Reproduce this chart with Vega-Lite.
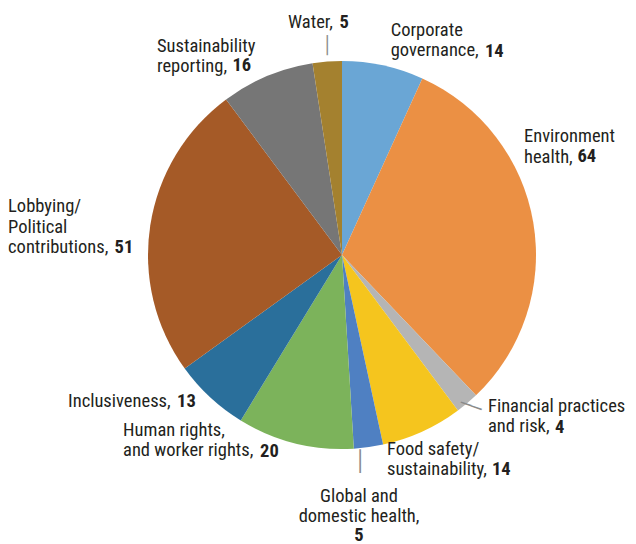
{
  "$schema": "https://vega.github.io/schema/vega-lite/v6.json",
  "width": 560,
  "height": 510,
  "autosize": "none",
  "padding": {"left": 62, "top": 0, "right": 14, "bottom": 34},
  "background": "white",
  "config": {"view": {"stroke": null}, "text": {"font": "Liberation Sans Narrow, Roboto Condensed, DejaVu Sans Condensed, sans-serif", "fontSize": 18.5, "color": "#231f20", "lineBreak": "\n", "lineHeight": 20.5, "baseline": "alphabetic", "align": "left"}},
  "data": {"values": [
    {"cat": "Corporate governance", "n": 14, "lab": "Corporate\ngovernance,", "num": "14"},
    {"cat": "Environment health", "n": 64, "lab": "Environment\nhealth,", "num": "64"},
    {"cat": "Financial practices and risk", "n": 4, "lab": "Financial practices\nand risk,", "num": "4"},
    {"cat": "Food safety/sustainability", "n": 14, "lab": "Food safety/\nsustainability,", "num": "14"},
    {"cat": "Global and domestic health", "n": 5, "lab": "Global and\ndomestic health,", "num": "5"},
    {"cat": "Human rights, and worker rights", "n": 20, "lab": "Human rights,\nand worker rights,", "num": "20"},
    {"cat": "Inclusiveness", "n": 13, "lab": "Inclusiveness,", "num": "13"},
    {"cat": "Lobbying/Political contributions", "n": 51, "lab": "Lobbying/\nPolitical\ncontributions,", "num": "51"},
    {"cat": "Sustainability reporting", "n": 16, "lab": "Sustainability\nreporting,", "num": "16"},
    {"cat": "Water", "n": 5, "lab": "Water,", "num": "5"}
  ]},
  "encoding": {
    "theta": {"field": "n", "type": "quantitative", "stack": true},
    "order": {"field": "cat", "type": "nominal"},
    "detail": {"field": "cat", "type": "nominal"}
  },
  "layer": [
    {"mark": {"type": "arc", "outerRadius": 194},
     "encoding": {"color": {"field": "cat", "type": "nominal", "legend": null,
       "scale": {"domain": ["Corporate governance", "Environment health", "Financial practices and risk", "Food safety/sustainability", "Global and domestic health", "Human rights, and worker rights", "Inclusiveness", "Lobbying/Political contributions", "Sustainability reporting", "Water"],
                 "range": ["#6aa6d5", "#eb9044", "#b5b5b5", "#f5c51e", "#4f80c2", "#7cb35b", "#2a6f9b", "#a55a27", "#767676", "#a4812f"]}}}},

    {"mark": {"type": "text", "radius": 194, "dx": 7.6, "dy": -29.7}, "encoding": {"text": {"condition": {"test": "datum.cat === 'Corporate governance'", "field": "lab"}, "value": ""}}},
    {"mark": {"type": "text", "radius": 194, "dx": 101.9, "dy": -8.7, "fontWeight": "bold"}, "encoding": {"text": {"condition": {"test": "datum.cat === 'Corporate governance'", "field": "num"}, "value": ""}}},

    {"mark": {"type": "text", "radius": 194, "dx": -9.3, "dy": -80.6}, "encoding": {"text": {"condition": {"test": "datum.cat === 'Environment health'", "field": "lab"}, "value": ""}}},
    {"mark": {"type": "text", "radius": 194, "dx": 44.2, "dy": -60.6, "fontWeight": "bold"}, "encoding": {"text": {"condition": {"test": "datum.cat === 'Environment health'", "field": "num"}, "value": ""}}},

    {"mark": {"type": "text", "radius": 194, "dx": 20.8, "dy": 8.8}, "encoding": {"text": {"condition": {"test": "datum.cat === 'Financial practices and risk'", "field": "lab"}, "value": ""}}},
    {"mark": {"type": "text", "radius": 194, "dx": 87.8, "dy": 29.8, "fontWeight": "bold"}, "encoding": {"text": {"condition": {"test": "datum.cat === 'Financial practices and risk'", "field": "num"}, "value": ""}}},

    {"mark": {"type": "text", "radius": 194, "dx": -35.4, "dy": 23.4}, "encoding": {"text": {"condition": {"test": "datum.cat === 'Food safety/sustainability'", "field": "lab"}, "value": ""}}},
    {"mark": {"type": "text", "radius": 194, "dx": 69.6, "dy": 43.4, "fontWeight": "bold"}, "encoding": {"text": {"condition": {"test": "datum.cat === 'Food safety/sustainability'", "field": "num"}, "value": ""}}},

    {"mark": {"type": "text", "radius": 194, "dx": -9.5, "dy": 54.8, "align": "center"}, "encoding": {"text": {"condition": {"test": "datum.cat === 'Global and domestic health'", "field": "lab"}, "value": ""}}},
    {"mark": {"type": "text", "radius": 194, "dx": -9.5, "dy": 93.5, "align": "center", "fontWeight": "bold"}, "encoding": {"text": {"condition": {"test": "datum.cat === 'Global and domestic health'", "field": "num"}, "value": ""}}},

    {"mark": {"type": "text", "radius": 194, "dx": -172.1, "dy": -7.3}, "encoding": {"text": {"condition": {"test": "datum.cat === 'Human rights, and worker rights'", "field": "lab"}, "value": ""}}},
    {"mark": {"type": "text", "radius": 194, "dx": -35.1, "dy": 13.7, "fontWeight": "bold"}, "encoding": {"text": {"condition": {"test": "datum.cat === 'Human rights, and worker rights'", "field": "num"}, "value": ""}}},

    {"mark": {"type": "text", "radius": 194, "dx": -142.1, "dy": 9.7}, "encoding": {"text": {"condition": {"test": "datum.cat === 'Inclusiveness'", "field": "lab"}, "value": ""}}},
    {"mark": {"type": "text", "radius": 194, "dx": -33.1, "dy": 9.7, "fontWeight": "bold"}, "encoding": {"text": {"condition": {"test": "datum.cat === 'Inclusiveness'", "field": "num"}, "value": ""}}},

    {"mark": {"type": "text", "radius": 194, "dx": -142.2, "dy": -13.5}, "encoding": {"text": {"condition": {"test": "datum.cat === 'Lobbying/Political contributions'", "field": "lab"}, "value": ""}}},
    {"mark": {"type": "text", "radius": 194, "dx": -35.7, "dy": 27.5, "fontWeight": "bold"}, "encoding": {"text": {"condition": {"test": "datum.cat === 'Lobbying/Political contributions'", "field": "num"}, "value": ""}}},

    {"mark": {"type": "text", "radius": 194, "dx": -110.1, "dy": -24.4}, "encoding": {"text": {"condition": {"test": "datum.cat === 'Sustainability reporting'", "field": "lab"}, "value": ""}}},
    {"mark": {"type": "text", "radius": 194, "dx": -34.6, "dy": -5.4, "fontWeight": "bold"}, "encoding": {"text": {"condition": {"test": "datum.cat === 'Sustainability reporting'", "field": "num"}, "value": ""}}},

    {"mark": {"type": "text", "radius": 194, "dx": -39.2, "dy": -33.3}, "encoding": {"text": {"condition": {"test": "datum.cat === 'Water'", "field": "lab"}, "value": ""}}},
    {"mark": {"type": "text", "radius": 194, "dx": 12.3, "dy": -33.3, "fontWeight": "bold"}, "encoding": {"text": {"condition": {"test": "datum.cat === 'Water'", "field": "num"}, "value": ""}}},

    {"mark": {"type": "text", "radius": 194, "dx": 0, "dy": -15.6, "align": "center", "baseline": "middle", "font": "DejaVu Sans", "fontSize": 17, "color": "#8a8a8a"}, "encoding": {"text": {"condition": {"test": "datum.cat === 'Water'", "value": "│"}, "value": ""}}},
    {"mark": {"type": "text", "radius": 194, "dx": -8.5, "dy": 15, "align": "center", "baseline": "middle", "font": "DejaVu Sans", "fontSize": 20, "color": "#8a8a8a"}, "encoding": {"text": {"condition": {"test": "datum.cat === 'Global and domestic health'", "value": "│"}, "value": ""}}},
    {"mark": {"type": "text", "radius": 194, "dx": 4.8, "dy": 2.3, "align": "center", "baseline": "middle", "angle": 19, "font": "DejaVu Sans", "fontSize": 18, "color": "#8a8a8a"}, "encoding": {"text": {"condition": {"test": "datum.cat === 'Financial practices and risk'", "value": "──"}, "value": ""}}}
  ]
}
